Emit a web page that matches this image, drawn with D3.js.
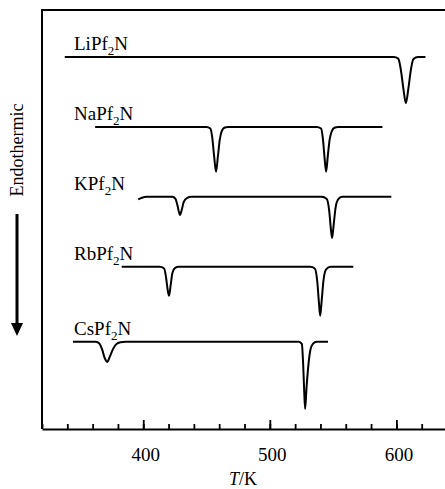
<!DOCTYPE html>
<html>
<head>
<meta charset="utf-8">
<script src="https://cdn.jsdelivr.net/npm/d3@7"></script>
<style>
  body { margin: 0; background: #fff; }
  text { font-family: 'Liberation Serif', 'Times New Roman', serif; fill: #000; }
  .trace { fill: none; stroke: #000; stroke-width: 2px; stroke-linejoin: round; }
</style>
</head>
<body>
<svg width="445" height="489"></svg>
<script>
// salts, top to bottom
var salts = ['Li', 'Na', 'K', 'Rb', 'Cs'];
// vertical offset of each DSC baseline (arbitrary units)
var offsets = [8.88, 7.21, 5.54, 3.87, 2.08];

// [T (K), signal relative to baseline]
var liData = [[338, 0], [598, 0], [601.5, -0.04], [603.5, -0.3], [605.5, -0.75], [607.5, -1.1],
  [609.5, -0.75], [611.5, -0.3], [613.5, -0.05], [617, 0], [623, 0]];
var naData = [[362, 0], [450, 0], [453, -0.04], [454.5, -0.25], [456, -0.7], [457.5, -1.07],
  [459, -0.7], [460.5, -0.3], [462, -0.1], [464, -0.02], [467, 0],
  [537, 0], [540.5, -0.04], [542, -0.3], [543.3, -0.75], [544.5, -1.07], [545.8, -0.7],
  [547.3, -0.3], [549, -0.1], [551, -0.02], [554, 0], [589, 0]];
var kData = [[396, -0.06], [399, -0.02], [403, 0], [423, 0], [425.5, -0.05], [427, -0.2], [429, -0.43],
  [430.5, -0.3], [432, -0.12], [434.5, -0.03], [438, 0],
  [541, 0], [545, -0.05], [547, -0.35], [548.2, -0.75], [549.2, -0.98], [550.5, -0.65],
  [552, -0.25], [554, -0.06], [557, 0], [596, 0]];
var rbData = [[383, 0], [413, 0], [416.5, -0.04], [418, -0.25], [419.3, -0.55], [420.4, -0.69],
  [421.6, -0.45], [423, -0.15], [425, -0.03], [428, 0],
  [532, 0], [535.5, -0.04], [537.5, -0.35], [538.8, -0.85], [539.8, -1.17], [541, -0.8],
  [542.5, -0.3], [544.5, -0.06], [548, 0], [566, 0]];
var csData = [[344.5, 0], [362, 0], [365, -0.03], [367.5, -0.18], [369.5, -0.38], [371.4, -0.48],
  [373.5, -0.36], [376, -0.18], [378.5, -0.06], [382, -0.01], [386, 0],
  [523, 0], [525.3, -0.05], [526.3, -0.5], [527.2, -1.2], [527.9, -1.6], [529, -1.1],
  [530.5, -0.55], [532, -0.2], [534, -0.05], [537, 0], [546, 0]];
var traces = [liData, naData, kData, rbData, csData];

var majorTicks = [400, 500, 600];
var minorTicks = d3.range(320, 641, 20);

var svg = d3.select('svg'),
  margin = {top: 10, right: 0, bottom: 60, left: 42},
  width = 405,
  height = svg.attr('height') - margin.top - margin.bottom;

var x = d3.scaleLinear().domain([320, 640]).range([margin.left, margin.left + width]),
  y = d3.scaleLinear().domain([0, 10]).range([margin.top + height, margin.top]);

// frame (left, top)
svg.append('path')
  .attr('d', 'M' + x(320) + ',' + y(0) + 'V' + y(10) + 'H' + (x(640) + 5))
  .attr('fill', 'none')
  .attr('stroke', '#000')
  .attr('stroke-width', 2);

// bottom axis: minor then major ticks, pointing inward
var minorAxis = svg.append('g')
  .attr('transform', 'translate(0,' + y(0) + ')')
  .call(d3.axisBottom(x).tickValues(minorTicks).tickSizeInner(-5).tickSizeOuter(0).tickFormat(''));
minorAxis.select('.domain').attr('stroke-width', 2);
minorAxis.selectAll('.tick line').attr('stroke-width', 1.8);

var majorAxis = svg.append('g')
  .attr('transform', 'translate(0,' + y(0) + ')')
  .call(d3.axisBottom(x).tickValues(majorTicks).tickSizeInner(-9).tickSizeOuter(0).tickPadding(19));
majorAxis.select('.domain').remove();
majorAxis.selectAll('.tick line').attr('stroke-width', 1.8);
majorAxis.selectAll('.tick text')
  .attr('font-family', 'Liberation Serif')
  .attr('font-size', 19)
  .attr('dx', '2');

// x title
var xt = svg.append('text')
  .attr('x', 243)
  .attr('y', 485)
  .attr('text-anchor', 'middle')
  .style('font-size', '18px');
xt.append('tspan').style('font-style', 'italic').text('T');
xt.append('tspan').text('/K');

// y label with arrow
svg.append('text')
  .attr('transform', 'translate(23,150) rotate(-90)')
  .attr('text-anchor', 'middle')
  .style('font-size', '18px')
  .text('Endothermic');

svg.append('line')
  .attr('x1', 17).attr('x2', 17)
  .attr('y1', 214).attr('y2', 326)
  .attr('stroke', '#000')
  .attr('stroke-width', 3);
svg.append('path')
  .attr('d', 'M11,323L23,323L17,336Z')
  .attr('fill', '#000');

var line = d3.line()
  .curve(d3.curveMonotoneX);

var trace = svg.selectAll('.salt')
  .data(traces)
  .enter()
  .append('g')
  .attr('class', 'salt');

trace.append('path')
  .attr('class', 'trace')
  .attr('d', function(d, i) {
    return line(d.map(function(p) { return [x(p[0]), y(offsets[i] + p[1])]; }));
  });

var label = trace.append('text')
  .attr('x', 74)
  .attr('y', function(d, i) { return y(offsets[i]) - 7; })
  .style('font-size', '19px');
label.append('tspan').text(function(d, i) { return salts[i] + 'Pf'; });
label.append('tspan').attr('dy', 5).style('font-size', '13px').text('2');
label.append('tspan').attr('dy', -5).text('N');
</script>
</body>
</html>
